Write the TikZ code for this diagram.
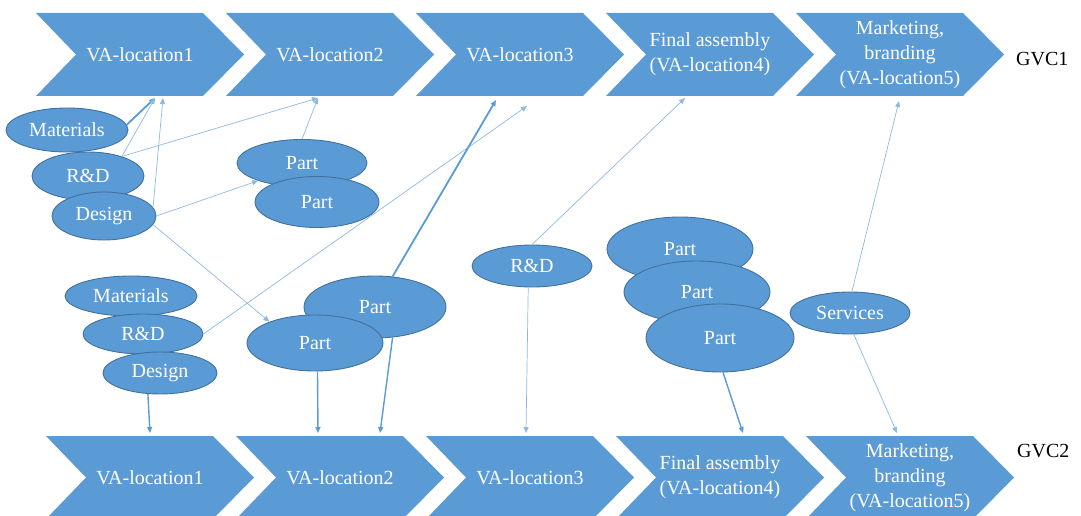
\documentclass[tikz,border=0pt]{standalone}
\usepackage{fontspec}
\setmainfont{Liberation Serif}
\usetikzlibrary{shapes.geometric, arrows.meta, positioning}
\definecolor{GV_BLUE}{HTML}{5B9BD5}
\definecolor{GV_EDGE}{HTML}{41719C}
\tikzset{
  chev/.style={
    rectangle, inner sep=0pt, outer sep=0pt,
    minimum width=208pt, minimum height=83pt,
    text centered, align=center, text=white,
    font=\fontsize{20}{25}\selectfont,
    path picture={
      \fill[GV_BLUE] (path picture bounding box.north west)
        -- ([xshift=-41pt]path picture bounding box.north east)
        -- (path picture bounding box.east)
        -- ([xshift=-41pt]path picture bounding box.south east)
        -- (path picture bounding box.south west)
        -- ([xshift=40pt]path picture bounding box.west) -- cycle;}},
  blob/.style={
    ellipse, inner sep=0pt,
    text centered, text=white,
    draw=GV_EDGE, line width=0.9pt, fill=GV_BLUE,
    font=\fontsize{20}{25}\selectfont},
  gvclab/.style={inner sep=0pt, font=\fontsize{20}{25}\selectfont},
  lnk/.style={-{Triangle[length=6pt,width=5pt]}, line width=0.7pt, color=GV_BLUE!70},
  lnkm/.style={-{Triangle[length=6pt,width=5pt]}, line width=1.4pt, color=GV_BLUE},
  lnkb/.style={-{Triangle[length=6pt,width=5pt]}, line width=1.8pt, color=GV_BLUE},
}

\begin{document}
\begin{tikzpicture}[x=1pt, y=-1pt]

  \clip (0,0) rectangle (1081,516);

  % GVC1 chain
  \node[chev] (va1) at (140,54.5) {VA-location1};
  \node[chev, right=-18pt of va1] (va2) {VA-location2};
  \node[chev, right=-18pt of va2] (va3) {VA-location3};
  \node[chev, right=-18pt of va3] (va4) {Final assembly\\(VA-location4)};
  \node[chev, right=-18pt of va4] (va5) {Marketing,\\branding\\(VA-location5)};
  \node[gvclab, right=12pt of va5, yshift=-5pt] (gvc1) {GVC1};

  % GVC2 chain
  \node[chev] (vb1) at (150,477.5) {VA-location1};
  \node[chev, right=-18pt of vb1] (vb2) {VA-location2};
  \node[chev, right=-18pt of vb2] (vb3) {VA-location3};
  \node[chev, right=-18pt of vb3] (vb4) {Final assembly\\(VA-location4)};
  \node[chev, right=-18pt of vb4] (vb5) {Marketing,\\branding\\(VA-location5)};
  \node[gvclab, right=3pt of vb5, yshift=26pt] (gvc2) {GVC2};

  % inputs, upper group
  \node[blob, minimum width=122pt, minimum height=44pt] (m1) at (67,130) {Materials};
  \node[blob, minimum width=112pt, minimum height=48pt] (r1) at (88,176) {R\&D};
  \node[blob, minimum width=104pt, minimum height=48pt] (d1) at (104,216) {Design};
  \node[blob, minimum width=130pt, minimum height=47pt] (pa) at (302,163) {Part};
  \node[blob, minimum width=124pt, minimum height=51pt] (pb) at (317,202) {Part};

  % inputs, lower group
  \node[blob, minimum width=132pt, minimum height=40pt] (m2) at (131,296) {Materials};
  \node[blob, minimum width=120pt, minimum height=40pt] (r2) at (143,334) {R\&D};
  \node[blob, minimum width=114pt, minimum height=42pt] (d2) at (160,373) {Design};
  \node[blob, minimum width=142pt, minimum height=62pt] (pc) at (375,307) {Part};
  \node[blob, minimum width=136pt, minimum height=56pt] (pd) at (315,343) {Part};

  % inputs, middle
  \node[blob, minimum width=120pt, minimum height=42pt] (r3) at (532,266) {R\&D};
  \node[blob, minimum width=146pt, minimum height=64pt] (pe) at (680,249) {Part};
  \node[blob, minimum width=146pt, minimum height=62pt] (pf) at (697,292) {Part};
  \node[blob, minimum width=148pt, minimum height=68pt] (pg) at (720,338) {Part};
  \node[blob, minimum width=120pt, minimum height=42pt] (sv) at (850,313) {Services};

  \draw[lnkb] (m1.5)   -- ([xshift=15pt,yshift=-2pt]va1.south);
  \draw[lnk]  (r1.30)  -- ([xshift=15pt,yshift=-2pt]va1.south);
  \draw[lnk]  (d1.10)  -- ([xshift=23pt,yshift=-2pt]va1.south);
  \draw[lnk]  (r1.30)  -- ([xshift=-12pt,yshift=-2pt]va2.south);
  \draw[lnk]  (pa.north) -- ([xshift=-12pt,yshift=-2pt]va2.south);
  \draw[lnk]  (d1.0)   -- (pa.202);
  \draw[lnk]  (d1.-10) -- (pd.155);
  \draw[lnk]  (r2.0)   -- ([xshift=7pt,yshift=-10pt]va3.south);
  \draw[lnkb] (pc.60)  -- ([xshift=-24pt,yshift=-4pt]va3.south);
  \draw[lnk]  (r3.north) -- ([xshift=-25pt,yshift=-2pt]va4.south);
  \draw[lnk]  (sv.85)  -- ([xshift=-1pt,yshift=-5pt]va5.south);
  \draw[lnkm] (d2.240) -- ([yshift=3pt]vb1.north);
  \draw[lnkm] (pd.-85) -- ([xshift=-22pt,yshift=3pt]vb2.north);
  \draw[lnkm] (pc.-60) -- ([xshift=40pt,yshift=3pt]vb2.north);
  \draw[lnk]  (r3.260) -- ([xshift=-4pt,yshift=3pt]vb3.north);
  \draw[lnkm] (pg.-85) -- ([xshift=23pt,yshift=3pt]vb4.north);
  \draw[lnk]  (sv.-80) -- ([xshift=-13pt,yshift=3pt]vb5.north);

\end{tikzpicture}
\end{document}
